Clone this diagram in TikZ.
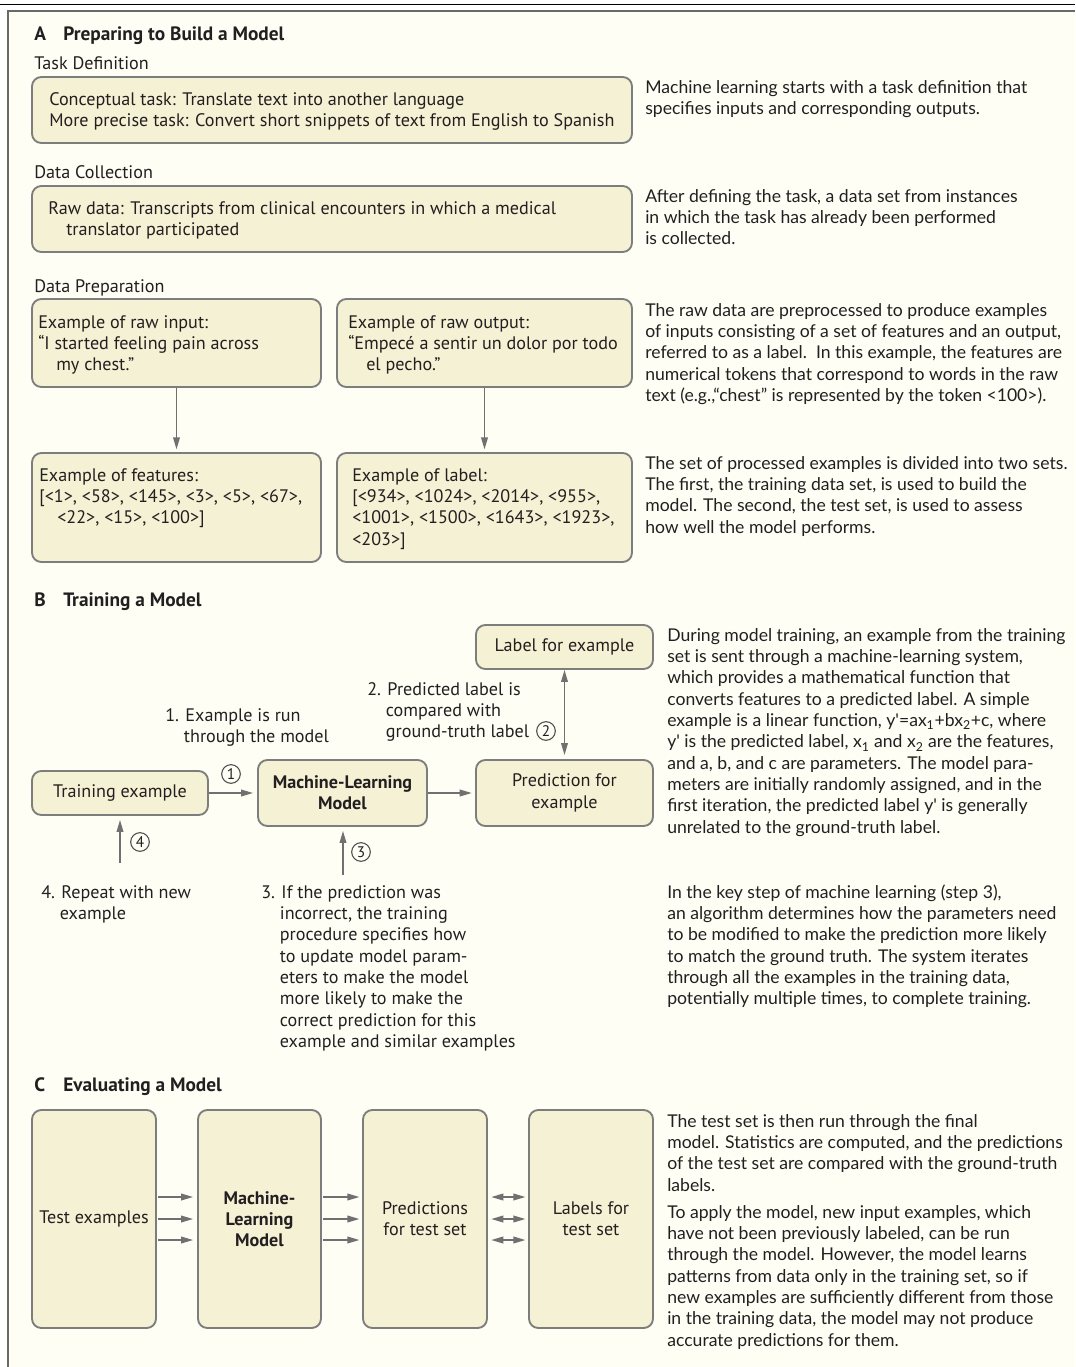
\documentclass[tikz,border=0pt]{standalone}
\usepackage{fontspec}
\setmainfont{PT Sans}
\newfontfamily\rtfont{Lato}
\usetikzlibrary{arrows.meta,fit}
\definecolor{bg}{RGB}{254,254,245}
\definecolor{boxfill}{RGB}{244,241,212}
\definecolor{boxline}{RGB}{125,125,125}
\definecolor{framegray}{RGB}{105,105,105}
\definecolor{arrgray}{RGB}{112,112,112}
\definecolor{txt}{RGB}{35,31,32}
\newcommand\bfnt{\fontsize{13.6pt}{16pt}\selectfont}
\newcommand\rfnt{\rtfont\fontsize{13.2pt}{16pt}\selectfont}
\newcommand\hfnt{\bfseries\fontsize{14.5pt}{16pt}\selectfont}
\newcommand\lines[1]{\begin{tabular}[t]{@{}l@{}}#1\end{tabular}}
\newcommand\ind[1]{\hspace*{#1pt}}
\begin{document}
\begin{tikzpicture}[x=0.75pt,y=-0.75pt,
  box/.style={draw=boxline, line width=1.4pt, fill=boxfill, rounded corners=7pt, inner sep=0pt},
  lbl/.style={anchor=base west, inner sep=0pt, text=txt, font=\bfnt},
  rtxt/.style={anchor=base west, inner sep=0pt, text=txt, font=\rfnt},
  head/.style={anchor=base west, inner sep=0pt, text=txt, font=\hfnt},
  ctext/.style={inner sep=0pt, text=txt, font=\bfnt, align=center},
  btext/.style={inner sep=0pt, text=txt, font=\bfnt\bfseries, align=center},
  arr/.style={draw=arrgray, line width=1.1pt, -{Triangle[length=9pt,width=5pt]}},
  darr/.style={draw=arrgray, line width=1.1pt, {Triangle[length=9pt,width=5pt]}-{Triangle[length=9pt,width=5pt]}},
  num/.style={circle, draw=txt!80, line width=0.8pt, minimum size=14pt, inner sep=0pt, font=\fontsize{11.5pt}{12pt}\selectfont, text=txt}
]
\useasboundingbox (0,0) rectangle (1075,1367);
\fill[white] (0,0) rectangle (1075,1367);
\fill[bg] (8,11) rectangle (1075,1367);
\draw[black, line width=0.9pt] (0,4.6) -- (1075,4.6);
\draw[framegray, line width=1.6pt] (7,11) -- (1075,11);
\draw[framegray, line width=1.3pt] (8,10) -- (8,1367);

% ---------- Section A ----------
\node[head] (hA) at (34,40) {A};
\node[head] (hAt) at (63,40) {Preparing to Build a Model};
\node[lbl] (sTD) at (34,69) {Task Definition};
\node[box, fit={(32,77) (632,143)}] (td) {};
\node[lbl] (tdt) at (49,105) {\lines{Conceptual task: Translate text into another language\\More precise task: Convert short snippets of text from English to Spanish}};
\node[rtxt] (r1) at (645,93) {\lines{Machine learning starts with a task definition that\\specifies inputs and corresponding outputs.}};

\node[lbl] (sDC) at (34,178) {Data Collection};
\node[box, fit={(32,186) (632,252)}] (dc) {};
\node[lbl] (dct) at (48,214) {\lines{Raw data: Transcripts from clinical encounters in which a medical\\\ind{13.5}translator participated}};
\node[rtxt] (r2) at (645,202) {\lines{After defining the task, a data set from instances\\in which the task has already been performed\\is collected.}};

\node[lbl] (sDP) at (34,292) {Data Preparation};
\node[box, fit={(32,299) (321,387)}] (rin) {};
\node[box, fit={(337,299) (632,387)}] (rout) {};
\node[box, fit={(32,453) (321,562)}] (feat) {};
\node[box, fit={(337,453) (632,562)}] (labl) {};
\node[lbl] (rint) at (38,328) {\lines{Example of raw input:\\“I started feeling pain across\\\ind{13.5}my chest.”}};
\node[lbl] (routt) at (348,328) {\lines{Example of raw output:\\“Empecé a sentir un dolor por todo\\\ind{13.5}el pecho.”}};
\node[lbl] (featt) at (39,481) {\lines{Example of features:\\{[}<1>, <58>, <145>, <3>, <5>, <67>,\\\ind{13.5}<22>, <15>, <100>]}};
\node[lbl] (lablt) at (352,481) {\lines{Example of label:\\{[}<934>, <1024>, <2014>, <955>,\\<1001>, <1500>, <1643>, <1923>,\\<203>]}};
\draw[arr, shorten >=2pt] (rin.south) -- (feat.north);
\draw[arr, shorten >=2pt] (rout.south) -- (labl.north);
\node[rtxt] (r3) at (645,316) {\lines{The raw data are preprocessed to produce examples\\of inputs consisting of a set of features and an output,\\referred to as a label.\ \ In this example, the features are\\numerical tokens that correspond to words in the raw\\text (e.g.,“chest” is represented by the token <100>).}};
\node[rtxt] (r4) at (645,469) {\lines{The set of processed examples is divided into two sets.\\The first, the training data set, is used to build the\\model. The second, the test set, is used to assess\\how well the model performs.}};

% ---------- Section B ----------
\node[head] (hB) at (34,606) {B};
\node[head] (hBt) at (63,606) {Training a Model};
\node[box, fit={(476,625) (653,669)}] (lab) {};
\node[ctext] (labt) at (lab.center) {Label for example};
\node[box, fit={(32,771) (208,815)}] (te) {};
\node[ctext] (tet) at (te.center) {Training example};
\node[box, fit={(258,760) (427,826)}] (mlb) {};
\node[btext] (mlbt) at (mlb.center) {Machine-Learning\\Model};
\node[box, fit={(476,760) (653,826)}] (pred) {};
\node[ctext] (predt) at (pred.center) {Prediction for\\example};
\draw[arr, shorten >=3pt] (te.east) -- (mlb.west);
\draw[arr, shorten >=2.5pt] (mlb.east) -- (pred.west);
\draw[darr, shorten >=3pt] (lab.south) -- (pred.north);
\coordinate (a4) at (120,863);
\coordinate (a3) at (343,875);
\draw[arr, shorten >=3pt] (a4) -- (a4 |- te.south);
\draw[arr, shorten >=3pt] (a3) -- (a3 |- mlb.south);
\node[num] (c1) at (231,774) {1};
\node[num] (c2) at (546,731) {2};
\node[num] (c3) at (361,852) {3};
\node[num] (c4) at (140,842) {4};
\node[lbl] (s1) at (165,721) {\lines{1. Example is run\\\ind{14}through the model}};
\node[lbl] (s2) at (367,695) {\lines{2. Predicted label is\\\ind{14}compared with\\\ind{14}ground-truth label}};
\node[lbl] (s4) at (41,898) {\lines{4. Repeat with new\\\ind{14}example}};
\node[lbl] (s3) at (261,898) {\lines{3. If the prediction was\\\ind{14}incorrect, the training\\\ind{14}procedure specifies how\\\ind{14}to update model param-\\\ind{14}eters to make the model\\\ind{14}more likely to make the\\\ind{14}correct prediction for this\\\ind{14}example and similar examples}};
\node[rtxt] (r5) at (667,641) {\lines{During model training, an example from the training\\set is sent through a machine-learning system,\\which provides a mathematical function that\\converts features to a predicted label. A simple\\example is a linear function, y\textquotesingle=ax\textsubscript{1}+bx\textsubscript{2}+c, where\\y\textquotesingle\ is the predicted label, x\textsubscript{1} and x\textsubscript{2} are the features,\\and a, b, and c are parameters. The model para-\\meters are initially randomly assigned, and in the\\first iteration, the predicted label y\textquotesingle\ is generally\\unrelated to the ground-truth label.}};
\node[rtxt] (r6) at (667,898) {\lines{In the key step of machine learning (step 3),\\an algorithm determines how the parameters need\\to be modified to make the prediction more likely\\to match the ground truth. The system iterates\\through all the examples in the training data,\\potentially multiple times, to complete training.}};

% ---------- Section C ----------
\node[head] (hC) at (34,1091) {C};
\node[head] (hCt) at (63,1091) {Evaluating a Model};
\node[box, fit={(32,1110) (156,1328)}] (cte) {};
\node[box, fit={(198,1110) (321,1328)}] (cml) {};
\node[box, fit={(363,1110) (487,1328)}] (cpr) {};
\node[box, fit={(529,1110) (653,1328)}] (clb) {};
\node[ctext] (ctet) at (cte.center) {Test examples};
\node[btext] (cmlt) at (cml.center) {Machine-\\Learning\\Model};
\node[ctext] (cprt) at (cpr.center) {Predictions\\for test set};
\node[ctext] (clbt) at (clb.center) {Labels for\\test set};
\foreach \yy [count=\i] in {1197,1219,1240} {
  \coordinate (rw\i) at (0,\yy);
  \draw[arr, shorten <=1pt, shorten >=3pt] (cte.east |- rw\i) -- (cml.west |- rw\i);
  \draw[arr, shorten <=1pt, shorten >=2pt] (cml.east |- rw\i) -- (cpr.west |- rw\i);
  \draw[darr, shorten <=2.5pt, shorten >=2pt] (cpr.east |- rw\i) -- (clb.west |- rw\i);
}
\node[rtxt] (r7) at (667,1127) {\lines{The test set is then run through the final\\model. Statistics are computed, and the predictions\\of the test set are compared with the ground-truth\\labels.}};
\node[rtxt] (r8) at (667,1218) {\lines{To apply the model, new input examples, which\\have not been previously labeled, can be run\\through the model. However, the model learns\\patterns from data only in the training set, so if\\new examples are sufficiently different from those\\in the training data, the model may not produce\\accurate predictions for them.}};
\end{tikzpicture}
\end{document}
